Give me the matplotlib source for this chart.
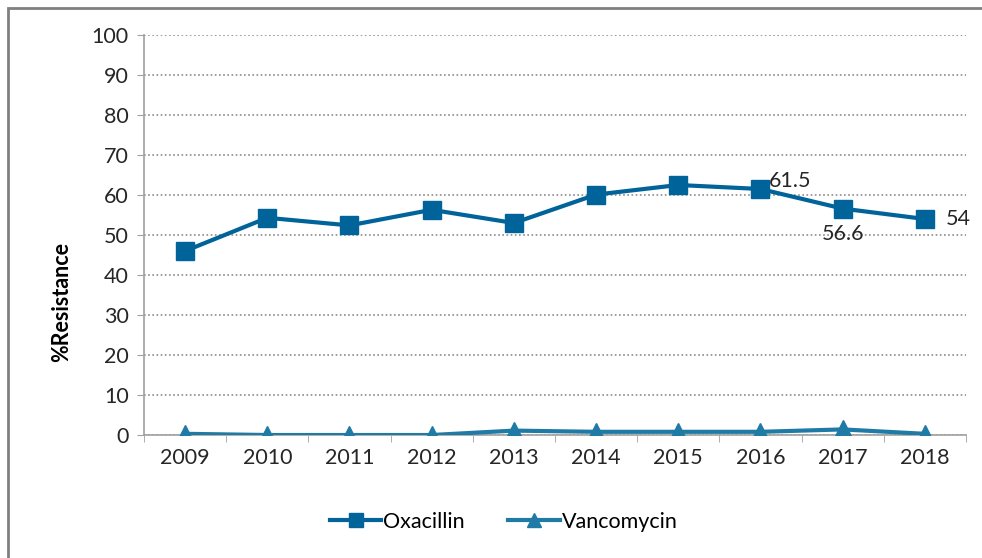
import matplotlib
matplotlib.use("Agg")
import matplotlib.pyplot as plt
from matplotlib.patches import Rectangle
import numpy as np

years = ["2009", "2010", "2011", "2012", "2013", "2014", "2015", "2016", "2017", "2018"]
oxacillin = [46, 54.3, 52.4, 56.3, 53, 60.1, 62.5, 61.5, 56.6, 54]
vancomycin = [0.3, 0, 0, 0, 1.1, 0.8, 0.8, 0.8, 1.4, 0.3]
yticks = [0, 10, 20, 30, 40, 50, 60, 70, 80, 90, 100]

plt.rcParams['font.family'] = ['Lato', 'DejaVu Sans']

fig = plt.figure(figsize=(9.82, 5.58), dpi=100)
ax = fig.add_axes([0.1466, 0.2204, 0.8371, 0.7169])

x = np.arange(len(years))
c_ox = "#00649A"
c_va = "#1F7BA5"
ax.plot(x, oxacillin, color=c_ox, lw=3, marker="s", ms=13, label="Oxacillin", zorder=3)
ax.plot(x, vancomycin, color=c_va, lw=3, marker="^", ms=13, label="Vancomycin", zorder=3)

ax.set_xlim(-0.5, len(years) - 0.5)
ax.set_ylim(0, 100)
ax.set_yticks(yticks)
ax.set_xticks(x)
ax.set_xticklabels(years)
ax.set_xticks(np.arange(-0.5, len(years), 1.0), minor=True)
ax.tick_params(axis="x", which="major", length=0, labelsize=15.5, pad=9, colors="#262626")
ax.tick_params(axis="x", which="minor", length=5, color="#A0A0A0", direction="out")
ax.tick_params(axis="y", length=5, color="#A0A0A0", labelsize=15.5, pad=6, labelcolor="#262626")
ax.yaxis.grid(True, linestyle=(0, (1, 1.5)), color="#8C8C8C", lw=1.2)
ax.set_axisbelow(True)
for s in ["top", "right"]:
    ax.spines[s].set_visible(False)
for s in ["left", "bottom"]:
    ax.spines[s].set_color("#A0A0A0")
    ax.spines[s].set_linewidth(1.2)

ax.set_ylabel("%Resistance", fontsize=15.5, fontweight="bold")
ax.yaxis.set_label_coords(-0.087, 0.3325)

ax.annotate("61.5", (7, oxacillin[7]), xytext=(6, 6), textcoords="offset points",
            fontsize=15.5, color="#262626", ha="left", va="center")
ax.annotate("56.6", (8, oxacillin[8]), xytext=(0, -18), textcoords="offset points",
            fontsize=15.5, color="#262626", ha="center", va="center")
ax.annotate("54", (9, oxacillin[9]), xytext=(15, 0), textcoords="offset points",
            fontsize=15.5, color="#262626", ha="left", va="center")

leg = fig.legend(loc="center", bbox_to_anchor=(0.513, 0.065), ncol=2, frameon=False,
                 fontsize=15.5, handlelength=2.4, columnspacing=2.0, handletextpad=0.1,
                 markerscale=0.75)

fig.patches.append(Rectangle((8 / 982, -0.1), 1.0, 1.1 - 8 / 558, transform=fig.transFigure,
                             fill=False, edgecolor="#808080", lw=2))

fig.savefig("out.png", dpi=100)
